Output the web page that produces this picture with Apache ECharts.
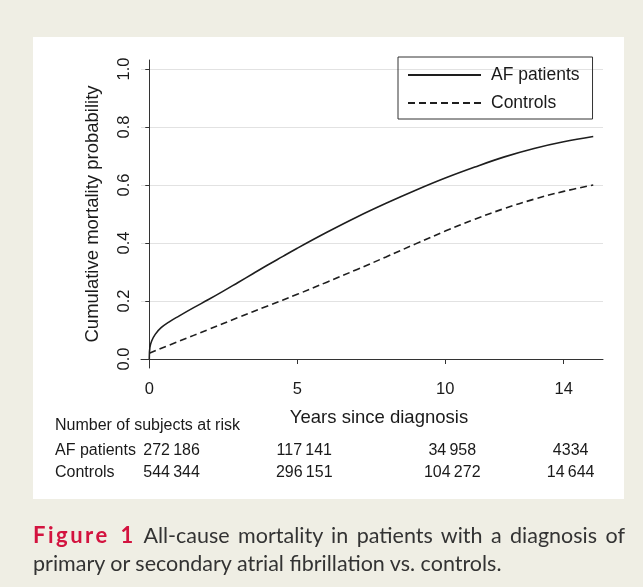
<!DOCTYPE html>
<html>
<head>
<meta charset="utf-8">
<script src="https://cdn.jsdelivr.net/npm/echarts@6/dist/echarts.min.js"></script>
<style>
  html, body { margin:0; padding:0; }
  body { width:643px; height:587px; background:#efeee4; position:relative; overflow:hidden; }
  #panel { position:absolute; left:33px; top:37px; width:591px; height:462px; background:#fff; }
  #chart { position:absolute; left:0; top:0; width:643px; height:587px; }
  .cap { position:absolute; left:33px; width:592px; font-family:Lato, "Open Sans", sans-serif; font-size:21.5px; line-height:28px; color:#333; white-space:nowrap; }
  #cap1 { top:521px; text-align:justify; text-align-last:justify; }
  #cap2 { top:549px; }
  .fig { color:#d3133f; font-weight:bold; font-size:22px; letter-spacing:2.5px; }
</style>
</head>
<body>
<div id="panel"></div>
<div id="chart"></div>
<div class="cap" id="cap1"><span class="fig">Figure 1</span> All-cause mortality in patients with a diagnosis of</div>
<div class="cap" id="cap2">primary or secondary atrial fibrillation vs. controls.</div>
<script>
// ---- data ----
const seriesNames = ['AF patients', 'Controls'];
const afYears = [0, 0.02, 0.08, 0.2, 0.4, 0.7, 1.0, 1.5, 2.0, 2.5, 3.0, 3.5, 4.0, 4.5, 5.0, 6.0, 7.0, 8.0, 9.0, 10.0, 11.0, 12.0, 13.0, 14.0, 15.0];
const afValues = [0, 0.04, 0.062, 0.085, 0.108, 0.13, 0.148, 0.177, 0.205, 0.234, 0.264, 0.294, 0.324, 0.353, 0.382, 0.437, 0.489, 0.537, 0.582, 0.624, 0.662, 0.697, 0.726, 0.749, 0.767];
const ctrlYears = [0, 1, 2, 3, 4, 5, 6, 7, 8, 9, 10, 11, 12, 13, 14, 15];
const ctrlValues = [0.02, 0.061, 0.102, 0.143, 0.183, 0.223, 0.265, 0.308, 0.352, 0.397, 0.441, 0.482, 0.519, 0.551, 0.578, 0.600];
const xTicks = [0, 5, 10, 14];
const yTicks = [0, 0.2, 0.4, 0.6, 0.8, 1.0];
const riskTitle = 'Number of subjects at risk';
const riskYears = [0, 5, 10, 14];
const riskAF = ['272\u2009186', '117\u2009141', '34\u2009958', '4334'];
const riskCtrl = ['544\u2009344', '296\u2009151', '104\u2009272', '14\u2009644'];

const zip = (xs, ys) => xs.map((x, i) => [x, ys[i]]);
const font = '"Liberation Sans", Arial, sans-serif';
const ink = '#1e1e1e';

const chart = echarts.init(document.getElementById('chart'), null, { renderer: 'canvas' });
const option = {
  backgroundColor: 'transparent',
  animation: false,
  grid: { left: 141, right: 40, top: 60, bottom: 219 },
  legend: {
    orient: 'vertical', left: 398, top: 57,
    padding: [8, 13, 6, 9], itemGap: 8, itemWidth: 73, itemHeight: 14,
    borderColor: '#333', borderWidth: 1, borderRadius: 0,
    itemStyle: { opacity: 0 },
    textStyle: { fontFamily: font, fontSize: 17.5, color: '#1a1a1a', lineHeight: 20, padding: [0, 0, 0, 5] },
    data: seriesNames
  },
  xAxis: {
    type: 'value', min: -0.28, max: 15.33,
    name: 'Years since diagnosis', nameLocation: 'middle', nameGap: 40,
    nameTextStyle: { fontFamily: font, fontSize: 18.5, color: '#1a1a1a', padding: [0, 0, 0, 14] },
    axisLine: { show: true, lineStyle: { color: '#333', width: 1 } },
    axisTick: { show: true, customValues: xTicks, length: 5, lineStyle: { color: '#333' } },
    axisLabel: { customValues: xTicks, margin: 13, fontFamily: font, fontSize: 16.5, color: '#1a1a1a' },
    splitLine: { show: false }
  },
  yAxis: {
    type: 'value', min: -0.031, max: 1.031,
    name: 'Cumulative mortality probability', nameLocation: 'middle', nameGap: 39,
    nameTextStyle: { fontFamily: font, fontSize: 18.5, color: '#1a1a1a' },
    axisLine: { show: true, lineStyle: { color: '#333', width: 1 } },
    axisTick: { show: true, customValues: yTicks, length: 4, lineStyle: { color: '#333' } },
    axisLabel: { customValues: yTicks, rotate: 90, margin: 8, fontFamily: font, fontSize: 16.5, color: '#1a1a1a',
      formatter: v => Number(v).toFixed(1) },
    splitLine: { show: true, lineStyle: { color: '#e2e2e2', width: 1 } }
  },
  series: [
    { name: seriesNames[0], type: 'line', data: zip(afYears, afValues), smooth: 0.4, symbol: 'none',
      lineStyle: { color: ink, width: 1.6, type: 'solid' }, itemStyle: { color: ink } },
    { name: seriesNames[1], type: 'line', data: zip(ctrlYears, ctrlValues), smooth: 0.4, symbol: 'none',
      lineStyle: { color: ink, width: 1.6, type: [7, 4] }, itemStyle: { color: ink } }
  ]
};
chart.setOption(option);

// risk table placed via the x scale
const px = t => chart.convertToPixel({ xAxisIndex: 0 }, t);
const txt = (x, y, s, align) => ({ type: 'text', x: x, y: y,
  style: { text: s, fontFamily: font, fontSize: 16, fill: '#1a1a1a', align: align, verticalAlign: 'middle' } });
const g = [];
g.push(txt(55, 426, riskTitle, 'left'));
g.push(txt(55, 451, seriesNames[0], 'left'));
g.push(txt(55, 473, seriesNames[1], 'left'));
riskYears.forEach((t, i) => {
  const first = i === 0;
  const x = first ? px(t) - 6 : px(t) + 7;
  const al = first ? 'left' : 'center';
  g.push(txt(x, 451, riskAF[i], al));
  g.push(txt(x, 473, riskCtrl[i], al));
});
chart.setOption({ graphic: g });
</script>
</body>
</html>
